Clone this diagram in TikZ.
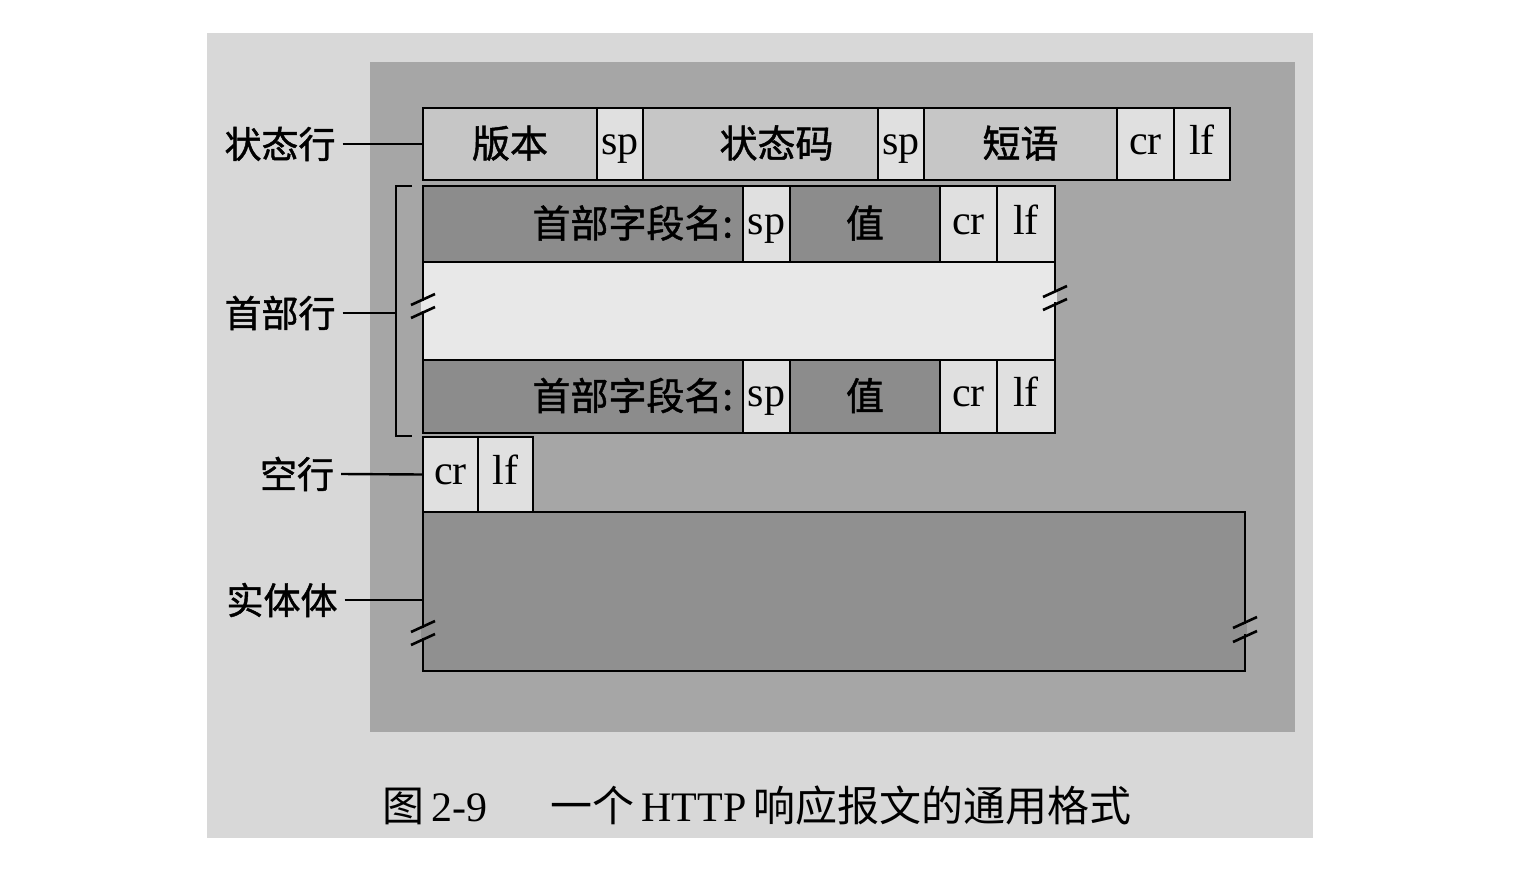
\documentclass[tikz,border=0pt]{standalone}
\usepackage{fontspec}
\setmainfont{Liberation Serif}
\newfontfamily\cjk{Noto Sans CJK SC}
\newfontfamily\cjkb[FakeBold=1.2]{Noto Sans CJK SC}
\definecolor{pagec}{RGB}{216,216,216}
\definecolor{panelc}{RGB}{166,166,166}
\definecolor{lightc}{RGB}{224,224,224}
\definecolor{midc}{RGB}{198,198,198}
\definecolor{darkc}{RGB}{140,140,140}
\definecolor{blankc}{RGB}{232,232,232}
\definecolor{bodyc}{RGB}{144,144,144}
\begin{document}
\begin{tikzpicture}[x=0.5pt,y=-0.5pt,
    cell/.style={draw, line width=1.4pt, inner sep=0pt, outer sep=0pt, text height=14.5pt, text depth=4.5pt, font=\fontsize{21}{24}\selectfont},
    zh/.style={text height=16pt, text depth=2.5pt, font={\cjkb\fontsize{19}{22}\selectfont}},
    lbl/.style={font={\cjkb\fontsize{18.5}{22}\selectfont}},
    lead/.style={line width=1.2pt},
    slash/.style={line width=1.3pt}]

    \useasboundingbox (0,0) rectangle (1534,888);
    \fill[white] (0,0) rectangle (1534,888);
    \fill[pagec] (207,33) rectangle (1313,838);
    \fill[panelc] (370,62) rectangle (1295,732);

%Status line
    \node[cell, zh, fill=midc, minimum width=87pt, minimum height=36pt] at (510,144) (ver) {版本};
    \node[cell, fill=lightc, minimum width=23pt, minimum height=36pt] at (620,144) (sp1) {sp};
    \node[cell, zh, fill=midc, minimum width=117.5pt, minimum height=36pt] at (760.5,144) (code) {\hspace{16pt}状态码};
    \node[cell, fill=lightc, minimum width=23pt, minimum height=36pt] at (901,144) (sp2) {sp};
    \node[cell, zh, fill=midc, minimum width=96.5pt, minimum height=36pt] at (1020.5,144) (phrase) {短语};
    \node[cell, fill=lightc, minimum width=28.5pt, minimum height=36pt] at (1145.5,144) (cr1) {cr};
    \node[cell, fill=lightc, minimum width=28pt, minimum height=36pt] at (1202,144) (lf1) {lf};

%Header lines
    \node[cell, zh, fill=darkc, minimum width=160pt, minimum height=38pt, text width=150pt, align=right] at (583,224) (hname1) {首部字段名:};
    \node[cell, fill=lightc, minimum width=23.5pt, minimum height=38pt] at (766.5,224) (hsp1) {sp};
    \node[cell, zh, fill=darkc, minimum width=75pt, minimum height=38pt] at (865,224) (hval1) {值};
    \node[cell, fill=lightc, minimum width=28.5pt, minimum height=38pt] at (968.5,224) (hcr1) {cr};
    \node[cell, fill=lightc, minimum width=29pt, minimum height=38pt] at (1026,224) (hlf1) {lf};

    \node[cell, fill=blankc, minimum width=316pt, minimum height=49pt] at (739,311) (gap) {};

    \node[cell, zh, fill=darkc, minimum width=160pt, minimum height=36.5pt, text width=150pt, align=right] at (583,396.5) (hname2) {首部字段名:};
    \node[cell, fill=lightc, minimum width=23.5pt, minimum height=36.5pt] at (766.5,396.5) (hsp2) {sp};
    \node[cell, zh, fill=darkc, minimum width=75pt, minimum height=36.5pt] at (865,396.5) (hval2) {值};
    \node[cell, fill=lightc, minimum width=28.5pt, minimum height=36.5pt] at (968.5,396.5) (hcr2) {cr};
    \node[cell, fill=lightc, minimum width=29pt, minimum height=36.5pt] at (1026,396.5) (hlf2) {lf};

%Blank line and body
    \node[cell, fill=lightc, minimum width=27.5pt, minimum height=37.5pt] at (450.5,474.5) (ecr) {cr};
    \node[cell, fill=lightc, minimum width=27.5pt, minimum height=37.5pt] at (505.5,474.5) (elf) {lf};
    \node[cell, fill=bodyc, minimum width=411pt, minimum height=79.5pt] at (834,591.5) (body) {};

%Break marks
    \draw[line width=2pt, blankc] (423,301) -- (423,311);
    \draw[slash] (411,305) -- (435,294);
    \draw[slash] (411,318) -- (435,307);
    \draw[line width=2pt, blankc] (1055,292) -- (1055,302);
    \draw[slash] (1043,297) -- (1067,286);
    \draw[slash] (1043,310) -- (1067,299);
    \draw[line width=2pt, bodyc] (423,628) -- (423,638);
    \draw[slash] (411,632) -- (435,621);
    \draw[slash] (411,645) -- (435,634);
    \draw[line width=2pt, bodyc] (1245,624) -- (1245,634);
    \draw[slash] (1233,628) -- (1257,617);
    \draw[slash] (1233,642) -- (1257,631);

%Row labels
    \node[lbl] at (280,144) (lstatus) {状态行};
    \node[lbl] at (280,313) (lhead) {首部行};
    \node[lbl] at (297,474) (lempty) {空行};
    \node[lbl] at (282,600) (lbody) {实体体};
    \coordinate (brace) at (396,313);

    \draw[lead] (412,186) -- (396,186) -- (396,436) -- (412,436);
    \draw[lead] (lstatus.east) -- (ver.west);
    \draw[lead] (lhead.east) -- (brace);
    \draw[lead] (lempty.east) -- (ecr.west);
    \draw[lead] (lbody.east) -- (lbody.east -| body.west);

%Caption
    \node[font=\fontsize{21}{25}\selectfont] at (757,806) (caption) {{\cjk 图}\,2-9\hspace{1.5em}{\cjk 一个}\,HTTP\,{\cjk 响应报文的通用格式}};

  \end{tikzpicture}
\end{document}
